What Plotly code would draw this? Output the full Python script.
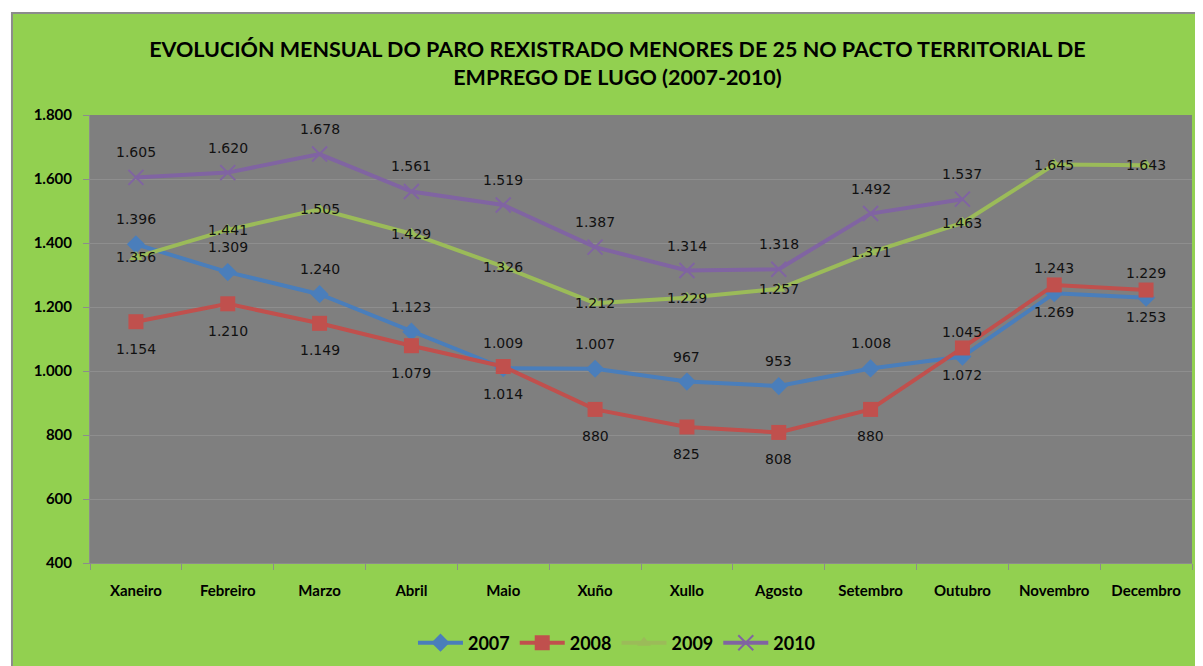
import plotly.graph_objects as go

# Monthly registered unemployment, under 25, Lugo territorial pact
months = ["Xaneiro", "Febreiro", "Marzo", "Abril", "Maio", "Xuño",
          "Xullo", "Agosto", "Setembro", "Outubro", "Novembro", "Decembro"]
paro_2007 = [1396, 1309, 1240, 1123, 1009, 1007, 967, 953, 1008, 1045, 1243, 1229]
paro_2008 = [1154, 1210, 1149, 1079, 1014, 880, 825, 808, 880, 1072, 1269, 1253]
paro_2009 = [1356, 1441, 1505, 1429, 1326, 1212, 1229, 1257, 1371, 1463, 1645, 1643]
paro_2010 = [1605, 1620, 1678, 1561, 1519, 1387, 1314, 1318, 1492, 1537]
y_ticks = [400, 600, 800, 1000, 1200, 1400, 1600, 1800]


def fmt(v):
    # spanish style thousands separator
    return f"{v:,}".replace(",", ".")


# name, values, colour, marker, label shift in px (+ above, - below, 0 on point)
series = [
    ("2007", paro_2007, "#4A7EBB", dict(symbol="diamond", size=14), 25),
    ("2008", paro_2008, "#C0504D", dict(symbol="square", size=15), -27),
    ("2009", paro_2009, "#9BBB59", dict(symbol="triangle-up", size=12), 0),
    ("2010", paro_2010, "#8064A2", dict(symbol="x-thin-open", size=15, line=dict(width=2, color="#8064A2")), 25),
]

fig = go.Figure()
for name, vals, color, marker, shift in series:
    xs = months[:len(vals)]
    fig.add_trace(go.Scatter(
        x=xs, y=vals, name=name, mode="lines+markers",
        line=dict(color=color, width=4),
        marker=dict(color=color, **marker),
    ))
    for m, v in zip(xs, vals):
        fig.add_annotation(x=m, y=v, text=fmt(v), showarrow=False, yshift=shift,
                           font=dict(family="DejaVu Sans", size=14, color="#111111"))

# green chart area with thin grey border (white strip top/left like the excel export)
fig.add_shape(type="rect", xref="paper", yref="paper",
              x0=-0.0708, x1=1.03, y0=-0.25, y1=1.2277,
              fillcolor="#92D050", line=dict(color="#8C8C8C", width=2), layer="below")
# plot area background, drawn over the green
fig.add_shape(type="rect", xref="paper", yref="paper", x0=0, x1=1, y0=0, y1=1,
              fillcolor="#7F7F7F", line=dict(width=0), layer="below")

fig.update_layout(
    width=1195, height=658,
    paper_bgcolor="white", plot_bgcolor="rgba(0,0,0,0)",
    margin=dict(l=82, r=11, t=107, b=103),
    separators=",.",
    title=dict(text="EVOLUCIÓN MENSUAL DO PARO REXISTRADO MENORES DE 25 NO PACTO TERRITORIAL DE<br>EMPREGO DE LUGO (2007-2010)",
               x=0.51, xanchor="center", y=0.925, yanchor="middle",
               font=dict(family="Lato", size=21.5, color="black", weight="bold")),
    legend=dict(orientation="h", xref="container", yref="container",
                x=0.5096, xanchor="center", y=0.035, yanchor="middle",
                font=dict(family="Lato", size=18, color="black", weight="bold"),
                bgcolor="rgba(0,0,0,0)", itemwidth=45),
    font=dict(family="Lato", color="black"),
)

fig.update_yaxes(range=[400, 1800], tickvals=y_ticks, tickformat=",",
                 showgrid=True, gridcolor="#8E8E8E", gridwidth=1,
                 showline=True, linecolor="#8C8C8C", linewidth=1,
                 ticks="outside", ticklen=6, tickcolor="#8C8C8C", ticklabelstandoff=8,
                 tickfont=dict(family="Lato", size=15, color="black", weight="bold"),
                 zeroline=False)
fig.update_xaxes(type="category", categoryarray=months, range=[-0.5, 11.5],
                 showgrid=False, showline=True, linecolor="#8C8C8C", linewidth=1,
                 ticks="outside", tickson="boundaries", ticklen=6, tickcolor="#8C8C8C",
                 ticklabelstandoff=14,
                 tickfont=dict(family="Lato", size=15, color="black", weight="bold"))

fig.write_html("out.html")
